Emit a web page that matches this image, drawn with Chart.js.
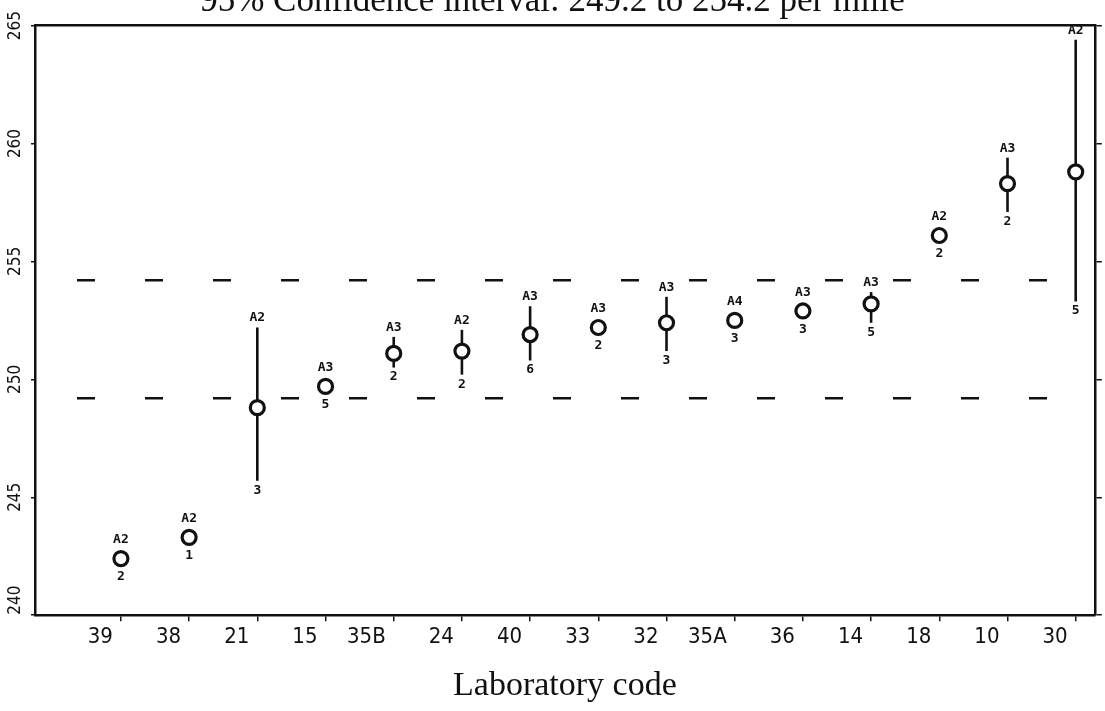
<!DOCTYPE html>
<html>
<head>
<meta charset="utf-8">
<script src="https://cdn.jsdelivr.net/npm/chart.js@4.4.0/dist/chart.umd.min.js"></script>
<style>
  html, body { margin: 0; padding: 0; background: #fff; }
  #wrap { width: 1105px; height: 711px; position: relative; }
</style>
</head>
<body>
<div id="wrap"><canvas id="myChart"></canvas></div>
<script>
const labCodes = ["39", "38", "21", "15", "35B", "24", "40", "33", "32", "35A", "36", "14", "18", "10", "30"]
const means = [242.4, 243.3, 248.8, 249.7, 251.1, 251.2, 251.9, 252.2, 252.4, 252.5, 252.9, 253.2, 256.1, 258.3, 258.8]
const upper = [null, null, 252.2, null, 251.8, 252.1, 253.1, null, 253.5, null, null, 253.7, null, 259.4, 264.4]
const lower = [null, null, 245.7, null, 250.5, 250.2, 250.8, null, 251.2, null, null, 252.4, null, 257.1, 253.3]
const methodLabels = ["A2", "A2", "A2", "A3", "A3", "A2", "A3", "A3", "A3", "A4", "A3", "A3", "A2", "A3", "A2"]
const countLabels = ["2", "1", "3", "5", "2", "2", "6", "2", "3", "3", "3", "5", "2", "2", "5"]
const ciLow = 249.2
const ciHigh = 254.2
const yTicks = [240, 245, 250, 255, 260, 265]

const xMin = -1.26
const xMax = 14.28
const ink = '#111'
const narrow = '"Liberation Sans Narrow", "DejaVu Sans Condensed", sans-serif'

const ctx = document.getElementById('myChart')

// error bars under the circles, labels over them, rotated y tick labels
const labPlugin = {
  id: 'labPlugin',
  beforeDatasetsDraw(chart) {
    const { ctx, scales } = chart
    ctx.save()
    ctx.strokeStyle = ink
    ctx.lineWidth = 2.6
    means.forEach((m, i) => {
      if (upper[i] == null) return
      const px = scales.x.getPixelForValue(i)
      ctx.beginPath()
      ctx.moveTo(px, scales.y.getPixelForValue(upper[i]))
      ctx.lineTo(px, scales.y.getPixelForValue(lower[i]))
      ctx.stroke()
    })
    ctx.restore()
  },
  afterDatasetsDraw(chart) {
    const { ctx, scales, chartArea } = chart
    ctx.save()
    ctx.fillStyle = ink
    ctx.font = 'bold 13px "DejaVu Sans Mono", monospace'
    ctx.textAlign = 'center'
    means.forEach((m, i) => {
      const px = scales.x.getPixelForValue(i)
      const py = scales.y.getPixelForValue(m)
      const top = upper[i] == null ? py - 9 : Math.min(py - 9, scales.y.getPixelForValue(upper[i]))
      const bot = lower[i] == null ? py + 9 : Math.max(py + 9, scales.y.getPixelForValue(lower[i]))
      ctx.textBaseline = 'bottom'
      ctx.fillText(methodLabels[i], px, top - 3)
      ctx.textBaseline = 'top'
      ctx.fillText(countLabels[i], px, bot + 3)
    })
    ctx.font = '17px ' + narrow
    ctx.textBaseline = 'middle'
    yTicks.forEach(v => {
      let py = scales.y.getPixelForValue(v)
      py = Math.min(Math.max(py, chartArea.top - 12), chartArea.bottom - 15)
      ctx.save()
      ctx.translate(16, py)
      ctx.rotate(-Math.PI / 2)
      ctx.fillText(String(v), 0, 0)
      ctx.restore()
    })
    ctx.restore()
  }
}

function ciLine(v) {
  return {
    data: [{ x: xMin, y: v }, { x: xMax, y: v }],
    showLine: true,
    borderColor: ink,
    borderWidth: 2.5,
    borderDash: [18, 50],
    borderDashOffset: 26,
    pointRadius: 0,
    pointHoverRadius: 0
  }
}

new Chart(ctx, {
  type: 'scatter',
  data: {
    datasets: [
      {
        data: means.map((m, i) => ({ x: i, y: m })),
        pointRadius: 7,
        pointHoverRadius: 7,
        pointBorderWidth: 3.2,
        pointBackgroundColor: '#fff',
        pointBorderColor: ink
      },
      ciLine(ciHigh),
      ciLine(ciLow)
    ]
  },
  plugins: [labPlugin],
  options: {
    responsive: true,
    maintainAspectRatio: false,
    animation: false,
    layout: { padding: 0 },
    plugins: {
      legend: { display: false },
      tooltip: { enabled: false },
      title: {
        display: true,
        text: '95% Confidence interval: 249.2 to 254.2 per mille',
        color: ink,
        font: { family: '"Liberation Serif", serif', size: 35, weight: 'normal' },
        padding: { top: -19, bottom: 2.6 }
      }
    },
    scales: {
      x: {
        type: 'linear',
        min: xMin,
        max: xMax,
        afterBuildTicks: axis => { axis.ticks = labCodes.map((c, i) => ({ value: i })) },
        ticks: {
          callback: v => labCodes[v],
          align: 'end',
          labelOffset: -8,
          padding: 3,
          maxRotation: 0,
          color: ink,
          font: { family: narrow, size: 22 }
        },
        grid: { drawOnChartArea: false, tickLength: 6, color: ink, lineWidth: 1.5 },
        border: { color: ink, width: 2.5 },
        title: {
          display: true,
          text: 'Laboratory code',
          color: ink,
          font: { family: '"Liberation Serif", serif', size: 34 },
          padding: { top: 12, bottom: 4.6 }
        }
      },
      xTop: {
        type: 'linear',
        position: 'top',
        min: xMin,
        max: xMax,
        ticks: { display: false },
        grid: { drawOnChartArea: false, drawTicks: false },
        border: { color: ink, width: 2.5 }
      },
      y: {
        min: 240,
        max: 265,
        afterBuildTicks: axis => { axis.ticks = yTicks.map(v => ({ value: v })) },
        afterFit: axis => { axis.width = 35 },
        ticks: { display: false },
        grid: { drawOnChartArea: false, tickLength: 4, color: ink, lineWidth: 1.5 },
        border: { color: ink, width: 2.5 }
      },
      yRight: {
        position: 'right',
        min: 240,
        max: 265,
        afterBuildTicks: axis => { axis.ticks = yTicks.map(v => ({ value: v })) },
        ticks: { display: false },
        grid: { drawOnChartArea: false, tickLength: 7, color: ink, lineWidth: 1.5 },
        border: { color: ink, width: 2.5 }
      }
    }
  }
})
</script>
</body>
</html>
